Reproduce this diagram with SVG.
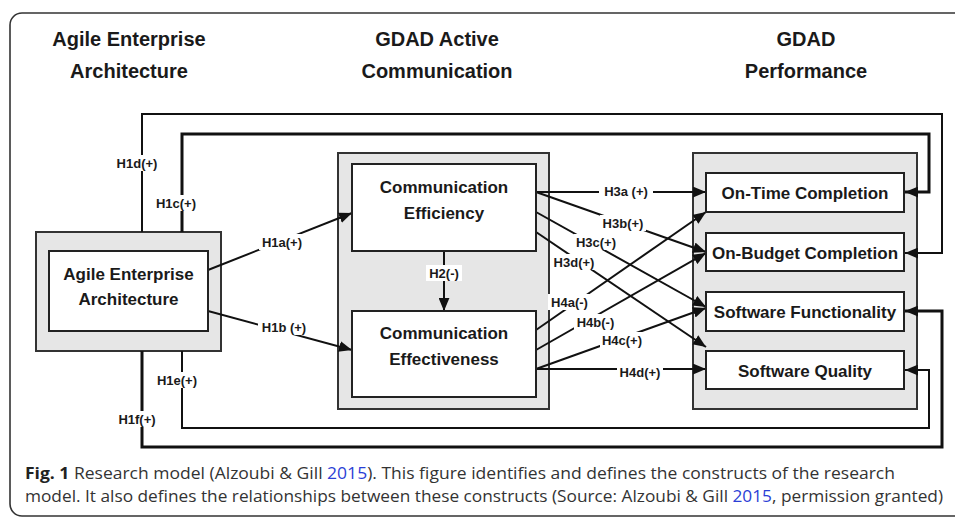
<svg xmlns="http://www.w3.org/2000/svg" width="955" height="519" viewBox="0 0 955 519">
  <style>
    .frame { fill: none; stroke: #333; stroke-width: 1.6; }
    .outer { fill: #e6e6e6; stroke: #333; stroke-width: 2; }
    .inner { fill: #fff; stroke: #222; stroke-width: 2; }
    .head { font-family: "Liberation Sans", Arial, sans-serif; font-weight: bold; font-size: 20px; fill: #1a1a1a; text-anchor: middle; }
    .node { font-family: "Liberation Sans", Arial, sans-serif; font-weight: bold; font-size: 17px; fill: #1a1a1a; text-anchor: middle; }
    .lbl { font-family: "Liberation Sans", Arial, sans-serif; font-weight: bold; font-size: 13px; fill: #1a1a1a; text-anchor: middle; }
    .bg { fill: #fff; }
    .ln { fill: none; stroke: #111; stroke-width: 2; }
    .thick { stroke-width: 3; }
    .cap { font-family: "Open Sans", "Liberation Sans", sans-serif; font-size: 15.5px; fill: #333; }
    .ref { fill: #2b3fd6; }
  </style>
  <defs>
    <marker id="arrow" viewBox="0 0 12 10" markerUnits="userSpaceOnUse" markerWidth="13" markerHeight="11" refX="12" refY="5" orient="auto">
      <path d="M0,0 L12,5 L0,10 z" fill="#111"/>
    </marker>
  </defs>

  <!-- figure frame -->
  <rect class="frame" x="10" y="13" width="970" height="503" rx="12" ry="12"/>

  <!-- column headings -->
  <text class="head" x="129" y="46">Agile Enterprise</text>
  <text class="head" x="129" y="78">Architecture</text>
  <text class="head" x="437" y="46">GDAD Active</text>
  <text class="head" x="437" y="78">Communication</text>
  <text class="head" x="806" y="46">GDAD</text>
  <text class="head" x="806" y="78">Performance</text>

  <!-- construct containers -->
  <rect class="outer" x="36" y="232" width="185" height="119"/>
  <rect class="outer" x="338" y="153" width="211" height="256"/>
  <rect class="outer" x="693" y="153" width="224" height="256"/>

  <!-- connectors -->
  <g id="connectors">
    <!-- H1 feedback loops -->
    <path class="ln" d="M142,232 V114 H942 V253 H905" marker-end="url(#arrow)"/>
    <path class="ln thick" d="M182,232 V134 H929 V192 H905" marker-end="url(#arrow)"/>
    <path class="ln thick" d="M142,351 V447 H942 V311 H905" marker-end="url(#arrow)"/>
    <path class="ln" d="M182,351 V428 H929 V370 H905" marker-end="url(#arrow)"/>
    <!-- H1a, H1b -->
    <path class="ln" d="M208,270 L352,213" marker-end="url(#arrow)"/>
    <path class="ln" d="M208,311 L352,350" marker-end="url(#arrow)"/>
    <!-- H2 -->
    <path class="ln" d="M444,251 V311" marker-end="url(#arrow)"/>
    <!-- H3: efficiency to performance -->
    <path class="ln" d="M536,192 H706" marker-end="url(#arrow)"/>
    <path class="ln" d="M536,192 L706,252" marker-end="url(#arrow)"/>
    <path class="ln" d="M536,212 L706,307" marker-end="url(#arrow)"/>
    <path class="ln" d="M536,232 L706,347" marker-end="url(#arrow)"/>
    <!-- H4: effectiveness to performance -->
    <path class="ln" d="M536,330 L706,212" marker-end="url(#arrow)"/>
    <path class="ln" d="M536,350 L706,253" marker-end="url(#arrow)"/>
    <path class="ln" d="M536,369 L706,308" marker-end="url(#arrow)"/>
    <path class="ln" d="M536,369 H706" marker-end="url(#arrow)"/>

    <!-- hypothesis labels -->
    <g id="labels">
      <rect class="bg" x="115" y="155" width="44" height="16"/><text class="lbl" x="137" y="168">H1d(+)</text>
      <rect class="bg" x="155" y="195" width="43" height="16"/><text class="lbl" x="176" y="208">H1c(+)</text>
      <rect class="bg" x="155" y="372" width="44" height="16"/><text class="lbl" x="177" y="385">H1e(+)</text>
      <rect class="bg" x="116" y="411" width="42" height="16"/><text class="lbl" x="137" y="424">H1f(+)</text>
      <rect class="bg" x="259" y="234" width="46" height="16"/><text class="lbl" x="282" y="247">H1a(+)</text>
      <rect class="bg" x="258" y="319" width="52" height="16"/><text class="lbl" x="284" y="332">H1b (+)</text>
      <rect class="bg" x="426" y="265" width="36" height="16"/><text class="lbl" x="444" y="278">H2(-)</text>
      <rect class="bg" x="599" y="183" width="54" height="16"/><text class="lbl" x="626" y="196">H3a (+)</text>
      <rect class="bg" x="600" y="215" width="46" height="16"/><text class="lbl" x="623" y="228">H3b(+)</text>
      <rect class="bg" x="574" y="234" width="44" height="16"/><text class="lbl" x="596" y="247">H3c(+)</text>
      <rect class="bg" x="551" y="254" width="46" height="16"/><text class="lbl" x="574" y="267">H3d(+)</text>
      <rect class="bg" x="548" y="294" width="43" height="16"/><text class="lbl" x="569.5" y="307">H4a(-)</text>
      <rect class="bg" x="574" y="314" width="43" height="16"/><text class="lbl" x="595.5" y="327">H4b(-)</text>
      <rect class="bg" x="600" y="332" width="44" height="16"/><text class="lbl" x="622" y="345">H4c(+)</text>
      <rect class="bg" x="617" y="364" width="46" height="16"/><text class="lbl" x="640" y="377">H4d(+)</text>
    </g>
  </g>

  <!-- nodes -->
  <g id="agile-enterprise-architecture">
    <rect class="inner" x="49" y="251" width="159" height="80"/>
    <text class="node" x="128.5" y="280">Agile Enterprise</text>
    <text class="node" x="128.5" y="305">Architecture</text>
  </g>
  <g id="communication-efficiency">
    <rect class="inner" x="352" y="164" width="184" height="87"/>
    <text class="node" x="444" y="193">Communication</text>
    <text class="node" x="444" y="219">Efficiency</text>
  </g>
  <g id="communication-effectiveness">
    <rect class="inner" x="352" y="311" width="184" height="86"/>
    <text class="node" x="444" y="339">Communication</text>
    <text class="node" x="444" y="365">Effectiveness</text>
  </g>
  <g id="on-time-completion">
    <rect class="inner" x="706" y="173" width="198" height="39"/>
    <text class="node" x="805" y="199">On-Time Completion</text>
  </g>
  <g id="on-budget-completion">
    <rect class="inner" x="706" y="233" width="198" height="38"/>
    <text class="node" x="805" y="259">On-Budget Completion</text>
  </g>
  <g id="software-functionality">
    <rect class="inner" x="706" y="292" width="198" height="39"/>
    <text class="node" x="805" y="318">Software Functionality</text>
  </g>
  <g id="software-quality">
    <rect class="inner" x="706" y="351" width="198" height="38"/>
    <text class="node" x="805" y="377">Software Quality</text>
  </g>

  <!-- caption -->
  <text class="cap" x="25" y="479" textLength="870" lengthAdjust="spacingAndGlyphs"><tspan font-weight="bold" fill="#222">Fig. 1</tspan> Research model (Alzoubi &amp; Gill <tspan class="ref">2015</tspan>). This figure identifies and defines the constructs of the research</text>
  <text class="cap" x="25" y="502" textLength="918" lengthAdjust="spacingAndGlyphs">model. It also defines the relationships between these constructs (Source: Alzoubi &amp; Gill <tspan class="ref">2015</tspan>, permission granted)</text>
</svg>
